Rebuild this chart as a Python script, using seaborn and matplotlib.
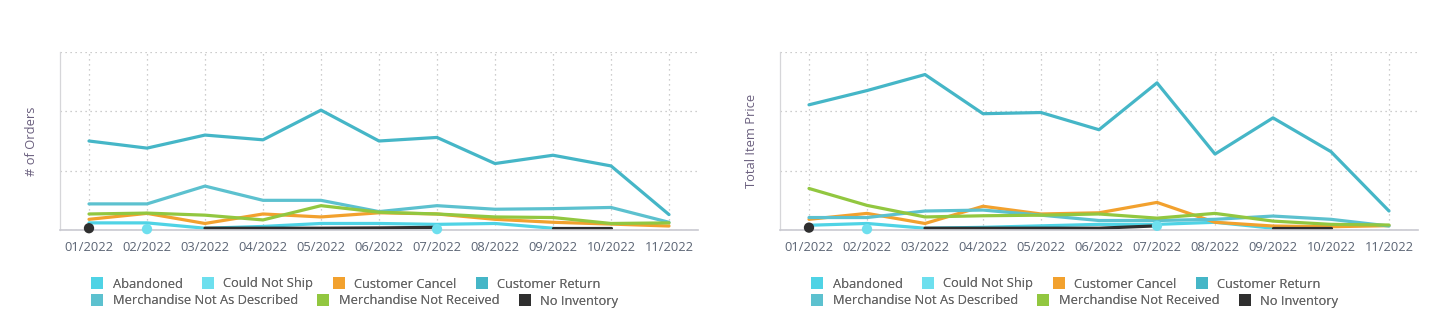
import numpy as np
import pandas as pd
import matplotlib
matplotlib.use("Agg")
import matplotlib.pyplot as plt
from matplotlib.lines import Line2D
import seaborn as sns

months = ["01/2022", "02/2022", "03/2022", "04/2022", "05/2022", "06/2022",
          "07/2022", "08/2022", "09/2022", "10/2022", "11/2022"]

series_names = ["Abandoned", "Could Not Ship", "Customer Cancel", "Customer Return",
                "Merchandise Not As Described", "Merchandise Not Received", "No Inventory"]

colors = ["#4fd3e5", "#6ddfee", "#f2a12e", "#45b6c7", "#5cc1cf", "#92c740", "#2f2f2f"]

nan = np.nan

# Number of orders per reason
orders_abandoned = [1.2, 1.2, 0.3, 0.6, 1.1, 1.1, 0.95, 1.1, 0.3, nan, nan]
orders_could_not_ship = [nan, 0.15, nan, nan, nan, nan, 0.15, nan, nan, nan, nan]
orders_customer_cancel = [1.8, 2.8, 1.1, 2.7, 2.2, 2.9, 2.7, 1.8, 1.3, 1.0, 0.67]
orders_customer_return = [15.0, 13.8, 16.0, 15.2, 20.2, 15.0, 15.6, 11.2, 12.6, 10.8, 2.6]
orders_not_as_described = [4.4, 4.4, 7.4, 5.0, 5.0, 3.1, 4.1, 3.5, 3.6, 3.8, 1.3]
orders_not_received = [2.7, 2.85, 2.5, 1.7, 4.1, 3.0, 2.7, 2.2, 2.1, 1.1, 1.2]
orders_no_inventory = [0.3, nan, 0.3, 0.3, 0.3, 0.35, 0.45, nan, 0.3, 0.3, nan]

# Total item price per reason
price_abandoned = [80, 110, 30, 45, 70, 95, 95, 130, 30, nan, nan]
price_could_not_ship = [nan, 15, nan, nan, nan, nan, 70, nan, nan, nan, nan]
price_customer_cancel = [180, 280, 110, 400, 270, 290, 465, 130, 67, 55, 73]
price_customer_return = [2110, 2350, 2620, 1960, 1980, 1690, 2480, 1280, 1890, 1320, 320]
price_not_as_described = [210, 210, 320, 336, 250, 160, 160, 180, 235, 180, 67]
price_not_received = [700, 415, 220, 240, 250, 270, 200, 280, 150, 95, 84]
price_no_inventory = [40, nan, 30, 30, 30, 30, 70, nan, 30, 30, nan]

orders = [orders_abandoned, orders_could_not_ship, orders_customer_cancel,
          orders_customer_return, orders_not_as_described, orders_not_received,
          orders_no_inventory]
prices = [price_abandoned, price_could_not_ship, price_customer_cancel,
          price_customer_return, price_not_as_described, price_not_received,
          price_no_inventory]


def to_long(values_per_series):
    """Long table with one row per point; contiguous runs get their own segment id."""
    rows = []
    for name, vals in zip(series_names, values_per_series):
        seg = 0
        prev_ok = False
        for i, v in enumerate(vals):
            ok = not np.isnan(v)
            if ok and not prev_ok:
                seg += 1
            if ok:
                left = i > 0 and not np.isnan(vals[i - 1])
                right = i < len(vals) - 1 and not np.isnan(vals[i + 1])
                rows.append({"pos": i, "month": months[i], "value": v, "series": name,
                             "seg": f"{name}-{seg}", "isolated": not (left or right)})
            prev_ok = ok
    return pd.DataFrame(rows)


sns.set_theme(style="white")
plt.rcParams["font.family"] = ["Open Sans", "DejaVu Sans"]

fig = plt.figure(figsize=(14.37, 3.32), dpi=100)
fig.patch.set_facecolor("white")

W, H = 1437, 332
ax_w = 638 / W
ax_b = (H - 230) / H
ax_h = 178 / H
axes = [fig.add_axes([60 / W, ax_b, ax_w, ax_h]),
        fig.add_axes([780 / W, ax_b, ax_w, ax_h])]

palette = dict(zip(series_names, colors))
tick_color = "#5b6474"
label_color = "#6a5f7e"
fs = 9.3

panels = [(orders, "# of Orders", 30, 10), (prices, "Total Item Price", 3000, 1000)]

for ax, (vals, ylabel, ymax, step) in zip(axes, panels):
    df = to_long(vals)
    sns.lineplot(data=df, x="pos", y="value", hue="series", units="seg",
                 estimator=None, hue_order=series_names, palette=palette,
                 linewidth=2.3, legend=False, ax=ax, sort=True)
    iso = df[df["isolated"]]
    sns.scatterplot(data=iso, x="pos", y="value", hue="series", hue_order=series_names,
                    palette=palette, s=55, linewidth=0, legend=False, ax=ax,
                    clip_on=False, zorder=5)

    ax.set_xlim(-0.5, len(months) - 0.5)
    ax.set_ylim(0, ymax)
    ax.set_xticks(range(len(months)))
    ax.set_xticklabels(months)
    ax.set_yticks(np.arange(0, ymax + step, step))
    ax.set_yticklabels([])
    ax.tick_params(axis="x", length=0, pad=8, labelsize=fs, labelcolor=tick_color)
    ax.tick_params(axis="y", length=0)
    ax.grid(True, axis="both", linestyle=(0, (1, 3)), color="#bdbdbd", linewidth=0.9)
    ax.set_axisbelow(True)
    for side in ("top", "right"):
        ax.spines[side].set_visible(False)
    ax.spines["left"].set_color("#d6d6d9")
    ax.spines["left"].set_linewidth(0.9)
    ax.spines["bottom"].set_color("#c9c9d1")
    ax.spines["bottom"].set_linewidth(1.2)
    ax.set_xlabel("")
    ax.set_ylabel(ylabel, fontsize=fs, color=label_color)
    ax.yaxis.set_label_coords(-0.035, 0.5)


def square(c):
    return Line2D([], [], marker="s", linestyle="none", markersize=8,
                  markerfacecolor=c, markeredgewidth=0)


legend_kw = dict(frameon=False, fontsize=fs, handlelength=0.85, handletextpad=0.75,
                 columnspacing=1.55, borderpad=0, borderaxespad=0, labelcolor="#666666",
                 loc="center left")

for x0 in (92 / W, 812 / W):
    top = fig.legend([square(c) for c in colors[:4]], series_names[:4], ncol=4,
                     bbox_to_anchor=(x0, (H - 284) / H), **legend_kw)
    fig.add_artist(top)
    bottom = fig.legend([square(c) for c in colors[4:]], series_names[4:], ncol=3,
                        bbox_to_anchor=(x0, (H - 301) / H), **legend_kw)
    fig.add_artist(bottom)

fig.savefig("out.png", dpi=100, facecolor="white")
